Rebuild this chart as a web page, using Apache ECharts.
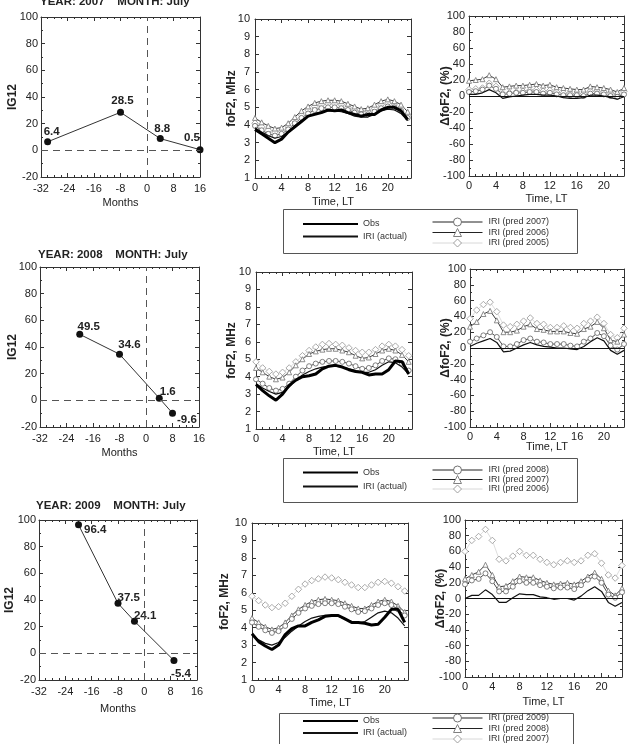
<!DOCTYPE html>
<html><head><meta charset="utf-8">
<script src="https://cdn.jsdelivr.net/npm/echarts@6/dist/echarts.min.js"></script>
<style>html,body{margin:0;padding:0;background:#fff}#c{width:632px;height:744px}</style>
</head><body><div id="c"></div>
<script>
// ---------------- DATA ----------------
const years = [2007, 2008, 2009];
const monthName = 'July';

// IG12 panels (months relative, IG12 values)
const months2007 = [-30, -8, 4, 16];
const ig12_2007 = [6.4, 28.5, 8.8, 0.5];
const months2008 = [-20, -8, 4, 8];
const ig12_2008 = [49.5, 34.6, 1.6, -9.6];
const months2009 = [-20, -8, -3, 9];
const ig12_2009 = [96.4, 37.5, 24.1, -5.4];

const hours = [0,1,2,3,4,5,6,7,8,9,10,11,12,13,14,15,16,17,18,19,20,21,22,23];

// foF2 (MHz) 2007
const obs2007 = [3.75,3.5,3.25,3.0,3.2,3.6,3.9,4.2,4.5,4.6,4.7,4.85,4.8,4.85,4.7,4.6,4.5,4.6,4.6,4.85,5.0,5.0,4.8,4.3];
const act2007 = [3.85,3.6,3.4,3.25,3.35,3.6,3.95,4.25,4.5,4.65,4.75,4.8,4.8,4.75,4.65,4.5,4.45,4.45,4.6,4.8,4.9,4.85,4.65,4.25];
const predA2007 = [3.95,3.7,3.5,3.4,3.5,3.75,4.1,4.4,4.65,4.85,4.95,5.0,5.0,4.95,4.85,4.7,4.6,4.6,4.75,4.95,5.05,5.0,4.8,4.4];
const predB2007 = [4.4,4.15,3.95,3.8,3.85,4.1,4.45,4.8,5.05,5.25,5.35,5.4,5.4,5.35,5.2,5.05,4.9,4.95,5.15,5.35,5.45,5.35,5.15,4.75];
const predC2007 = [4.1,3.9,3.7,3.6,3.65,3.9,4.25,4.55,4.85,5.05,5.15,5.2,5.2,5.15,5.0,4.85,4.75,4.8,4.95,5.15,5.25,5.2,4.95,4.55];
// delta foF2 (%) 2007
const dAct2007 = [2,2,4,8,4,-3,-1,0,1,2,2,1,1,0,-2,-3,-3,-2,1,1,0,-2,-4,-1];
const dPredA2007 = [5,6,8,13,9,2,3,4,4,5,5,3,4,2,1,1,1,0,3,3,2,0,-1,2];
const dPredB2007 = [19,20,21,26,21,11,12,13,13,14,15,13,14,11,10,9,8,8,12,11,10,8,5,10];
const dPredC2007 = [8,9,10,16,12,3,4,5,6,7,8,6,7,5,4,3,3,3,6,6,5,4,2,6];

// foF2 (MHz) 2008
const obs2008 = [3.55,3.2,2.9,2.65,3.0,3.5,3.8,4.0,4.05,4.15,4.45,4.6,4.65,4.55,4.4,4.3,4.25,4.1,4.15,4.15,4.4,4.9,4.85,4.15];
const act2008 = [3.6,3.35,3.15,3.0,3.1,3.4,3.8,4.1,4.3,4.45,4.55,4.6,4.6,4.55,4.45,4.35,4.25,4.25,4.4,4.65,4.85,4.8,4.55,4.15];
const predA2008 = [3.85,3.6,3.35,3.2,3.3,3.6,4.0,4.35,4.6,4.75,4.85,4.9,4.9,4.85,4.75,4.6,4.45,4.5,4.65,4.9,5.05,5.0,4.75,4.35];
const predB2008 = [4.5,4.25,4.0,3.85,3.95,4.25,4.65,5.0,5.3,5.45,5.55,5.6,5.6,5.5,5.4,5.2,5.05,5.1,5.3,5.5,5.6,5.5,5.25,4.85];
const predC2008 = [4.85,4.5,4.3,4.15,4.25,4.5,4.85,5.2,5.5,5.7,5.85,5.9,5.85,5.8,5.65,5.5,5.4,5.4,5.55,5.75,5.85,5.75,5.55,5.2];
// delta foF2 (%) 2008
const dAct2008 = [2,6,9,12,7,-5,-4,0,4,7,4,2,1,0,0,-1,-2,2,8,13,9,-3,-8,-3];
const dPredA2008 = [8,12,16,20,14,2,2,5,10,12,8,7,5,5,5,3,2,8,12,19,15,3,-2,5];
const dPredB2008 = [27,33,43,47,35,20,20,22,27,30,24,23,21,21,21,19,18,24,27,33,25,10,8,17];
const dPredC2008 = [37,48,55,58,46,29,27,30,34,38,31,30,26,26,28,26,25,31,34,39,31,17,13,25];

// foF2 (MHz) 2009
const obs2009 = [3.65,3.2,2.95,2.75,3.0,3.6,3.95,4.1,4.1,4.3,4.45,4.65,4.7,4.7,4.5,4.3,4.3,4.25,4.15,4.2,4.6,5.05,5.05,4.3];
const act2009 = [3.6,3.3,3.1,3.0,3.15,3.45,3.8,4.1,4.35,4.55,4.65,4.7,4.7,4.65,4.5,4.35,4.25,4.35,4.6,4.85,4.95,4.85,4.55,4.1];
const predA2009 = [4.3,4.05,3.85,3.7,3.8,4.1,4.5,4.85,5.1,5.25,5.35,5.4,5.4,5.35,5.2,5.05,4.9,4.95,5.1,5.3,5.4,5.3,5.05,4.7];
const predB2009 = [4.55,4.3,4.05,3.9,4.0,4.3,4.7,5.05,5.3,5.5,5.6,5.65,5.6,5.55,5.4,5.25,5.1,5.1,5.3,5.5,5.6,5.5,5.25,4.9];
const predC2009 = [5.8,5.55,5.3,5.15,5.2,5.4,5.8,6.2,6.5,6.7,6.8,6.9,6.85,6.75,6.6,6.45,6.3,6.3,6.45,6.6,6.65,6.55,6.35,6.1];
// delta foF2 (%) 2009
const dAct2009 = [0,4,4,11,5,-5,-5,1,6,5,5,2,1,-1,0,0,-2,3,10,15,9,-5,-10,-5];
const dPredA2009 = [18,23,25,32,22,9,9,15,22,20,20,17,15,13,14,14,12,17,24,28,20,5,1,8];
const dPredB2009 = [25,30,34,43,30,15,16,22,28,27,27,23,20,18,19,20,18,22,28,33,25,10,4,13];
const dPredC2009 = [60,74,79,88,74,50,48,54,60,55,55,50,46,43,46,48,46,48,55,57,45,30,26,42];

const predNames = [
  ['IRI (pred 2007)', 'IRI (pred 2006)', 'IRI (pred 2005)'],
  ['IRI (pred 2008)', 'IRI (pred 2007)', 'IRI (pred 2006)'],
  ['IRI (pred 2009)', 'IRI (pred 2008)', 'IRI (pred 2007)']
];
const igTicksX = [-32, 16, 8];
const igTicksY = [-20, 100, 20];

// ---------------- LAYOUT / STYLE ----------------
const rows = [
  {months: months2007, ig: ig12_2007, obs: obs2007, act: act2007, p: [predA2007, predB2007, predC2007], d: [dAct2007, dPredA2007, dPredB2007, dPredC2007]},
  {months: months2008, ig: ig12_2008, obs: obs2008, act: act2008, p: [predA2008, predB2008, predC2008], d: [dAct2008, dPredA2008, dPredB2008, dPredC2008]},
  {months: months2009, ig: ig12_2009, obs: obs2009, act: act2009, p: [predA2009, predB2009, predC2009], d: [dAct2009, dPredA2009, dPredB2009, dPredC2009]}
];
const gridBoxes = [
  [[41,17,159,160],[255,19,156,159],[469,16,155,160]],
  [[40,267,159,160],[256,272,156,157],[470,269,154,158]],
  [[39,520,158,160],[252,523,156,157],[465,520,157,157]]
];
const nameGaps = [ // [igX, igY, foX, foY, dX, dY]
  [20.5, 22, 18.5, 17, 17.5, 17],
  [20.5, 21, 17, 18, 14, 18],
  [23.5, 23, 17.5, 21, 19, 18]
];
const igLabelPlace = [
  [{position:'top',offset:[4,5]},{position:'top',offset:[2,2.5]},{position:'top',offset:[2,4.5]},{position:'top',offset:[-8,2.5]}],
  [{position:'top',offset:[9,6.5]},{position:'top',offset:[10,5.5]},{position:'right',offset:[-8,-6]},{position:'right',offset:[-4,7]}],
  [{position:'right',offset:[-3,5]},{position:'right',offset:[-9,-6]},{position:'right',offset:[-9,-5]},{position:'bottom',offset:[7,-1]}]
];
const titlePos = [[40,2],[38,255],[36,506]];
const legendBoxes = [[283,209,294,44],[283,458,294,44],[279,713,294,50]];
const legendLeftTop = [[302,219.5,3.5],[302,468,5],[302,716.5,3]];
const legendRightTop = [[432,217.5,2.5],[432,465.5,1.5],[432,713.5,2.5]];

const FONT = '"Liberation Sans", Arial, Helvetica, sans-serif';
const INK = '#222';
const AX = '#333';
const predStyles = [
  {symbol:'circle', symbolSize:5, mark:'#707070', line:'#4a4a4a', lw:1, legendLine:'#222'},
  {symbol:'triangle', symbolSize:5, mark:'#808080', line:'#3a3a3a', lw:1, legendLine:'#222'},
  {symbol:'diamond', symbolSize:6.5, mark:'#a0a0a0', line:'#d4d4d4', lw:0.8, legendLine:'#d8d8d8'}
];

function axisBase(gi, min, max, interval, minor) {
  return {type:'value', gridIndex:gi, min:min, max:max, interval:interval,
    axisLine:{show:true, onZero:false, lineStyle:{color:AX, width:1}},
    axisTick:{show:true, inside:true, length:4, lineStyle:{color:AX}},
    minorTick:{show:true, splitNumber:minor, length:2, lineStyle:{color:AX}},
    splitLine:{show:false}, minorSplitLine:{show:false}};
}
const xAxes = [], yAxes = [], grids = [], series = [], legends = [], graphics = [];

function addPanel(gi, box, xs, ys) {
  grids.push({left:box[0], top:box[1], width:box[2], height:box[3], containLabel:false});
  const xb = axisBase(gi, xs.min, xs.max, xs.interval, xs.minor);
  Object.assign(xb, {position:'bottom',
    axisLabel:{show:true, fontSize:11, color:INK, fontFamily:FONT, margin:xs.margin, showMaxLabel:xs.showMax},
    name:xs.name, nameLocation:'middle', nameGap:xs.nameGap, nameMoveOverlap:false,
    nameTextStyle:{fontSize:11, color:INK, fontFamily:FONT}});
  const xt = axisBase(gi, xs.min, xs.max, xs.interval, xs.minor);
  Object.assign(xt, {position:'top', axisLabel:{show:false}});
  const yl = axisBase(gi, ys.min, ys.max, ys.interval, ys.minor);
  Object.assign(yl, {position:'left',
    axisLabel:{show:true, fontSize:11, color:INK, fontFamily:FONT, margin:ys.margin},
    name:ys.name, nameLocation:'middle', nameGap:ys.nameGap, nameMoveOverlap:false,
    nameTextStyle:{fontSize:12, fontWeight:'bold', color:INK, fontFamily:FONT}});
  const yr = axisBase(gi, ys.min, ys.max, ys.interval, ys.minor);
  Object.assign(yr, {position:'right', axisLabel:{show:false}});
  if (!ys.minor) { yl.minorTick.show = false; yr.minorTick.show = false; }
  xAxes.push(xb, xt); yAxes.push(yl, yr);
}
const pairs = (xs, ys) => xs.map((x, i) => [x, ys[i]]);
const hiddenMark = {color:'rgba(0,0,0,0)', borderColor:'rgba(0,0,0,0)', borderWidth:0};

rows.forEach((R, r) => {
  const ng = nameGaps[r];
  // ---- IG12 panel
  let g = r * 3;
  addPanel(g, gridBoxes[r][0],
    {min:igTicksX[0], max:igTicksX[1], interval:igTicksX[2], minor:4, margin:6, showMax:true, name:'Months', nameGap:ng[0]},
    {min:igTicksY[0], max:igTicksY[1], interval:igTicksY[2], minor:2, margin:3, name:'IG12', nameGap:ng[1]});
  series.push({type:'line', name:'IG12 ' + years[r], xAxisIndex:2*g, yAxisIndex:2*g,
    data: R.months.map((m, i) => ({value:[m, R.ig[i]], label: igLabelPlace[r][i]})),
    symbol:'circle', symbolSize:7, itemStyle:{color:'#111'}, lineStyle:{color:'#333', width:1},
    label:{show:true, fontSize:11.5, fontWeight:'bold', color:INK, fontFamily:FONT, formatter: p => String(p.value[1])},
    markLine:{silent:true, symbol:['none','none'], label:{show:false}, animation:false,
      lineStyle:{type:[7,5], color:'#555', width:1}, data:[{yAxis:0},{xAxis:0}]},
    z:3});
  // ---- foF2 panel
  g = r * 3 + 1;
  addPanel(g, gridBoxes[r][1],
    {min:0, max:23.5, interval:4, minor:4, margin:4, showMax:false, name:'Time, LT', nameGap:ng[2]},
    {min:1, max:10, interval:1, minor:0, margin:5, name:'foF2, MHz', nameGap:ng[3]});
  const pn = predNames[r].map(n => n + '|' + r);
  [2,1,0].forEach(k => {
    const s = predStyles[k];
    series.push({type:'line', name:pn[k], xAxisIndex:2*g, yAxisIndex:2*g, data:pairs(hours, R.p[k]),
      symbol:s.symbol, symbolSize:s.symbolSize, showAllSymbol:true,
      itemStyle:{color:'#fff', borderColor:s.mark, borderWidth:0.9}, lineStyle:{color:s.line, width:s.lw}, z:2});
  });
  series.push({type:'line', name:'IRI (actual)', xAxisIndex:2*g, yAxisIndex:2*g, data:pairs(hours, R.act),
    symbol:'none', itemStyle:{color:'#111'}, lineStyle:{color:'#111', width:1.2}, z:3});
  series.push({type:'line', name:'Obs', xAxisIndex:2*g, yAxisIndex:2*g, data:pairs(hours, R.obs),
    symbol:'none', itemStyle:{color:'#000'}, lineStyle:{color:'#000', width:3}, z:4});
  // ---- delta panel
  g = r * 3 + 2;
  addPanel(g, gridBoxes[r][2],
    {min:0, max:23, interval:4, minor:4, margin:4, showMax:false, name:'Time, LT', nameGap:ng[4]},
    {min:-100, max:100, interval:20, minor:2, margin:4, name:'\u0394foF2, (%)', nameGap:ng[5]});
  [2,1,0].forEach(k => {
    const s = predStyles[k];
    series.push({type:'line', name:pn[k], xAxisIndex:2*g, yAxisIndex:2*g, data:pairs(hours, R.d[k+1]),
      symbol:s.symbol, symbolSize:s.symbolSize, showAllSymbol:true,
      itemStyle:{color:'#fff', borderColor:s.mark, borderWidth:0.9}, lineStyle:{color:s.line, width:s.lw}, z:2});
  });
  series.push({type:'line', name:'IRI (actual)', xAxisIndex:2*g, yAxisIndex:2*g, data:pairs(hours, R.d[0]),
    symbol:'none', itemStyle:{color:'#111'}, lineStyle:{color:'#111', width:1.2}, z:3,
    markLine:{silent:true, symbol:['none','none'], label:{show:false}, animation:false,
      lineStyle:{type:'solid', color:'#111', width:1}, data:[{yAxis:0}]}});
  // ---- title
  graphics.push({type:'text', x:titlePos[r][0], y:titlePos[r][1],
    style:{text:'YEAR: ' + years[r] + '    MONTH: ' + monthName, fontSize:11.5, fontWeight:'bold',
      fill:INK, fontFamily:FONT, verticalAlign:'middle', align:'left'}});
  // ---- legend box
  const lb = legendBoxes[r];
  graphics.push({type:'rect', shape:{x:lb[0]+0.5, y:lb[1]+0.5, width:lb[2], height:lb[3]},
    style:{fill:'none', stroke:'#555', lineWidth:1}, z:-1});
  const ll = legendLeftTop[r], lr = legendRightTop[r];
  legends.push({left:ll[0], top:ll[1], height:45, padding:0, orient:'vertical', itemWidth:55, itemHeight:9, itemGap:ll[2],
    selectedMode:false,
    data:[{name:'Obs', itemStyle:hiddenMark}, {name:'IRI (actual)', itemStyle:hiddenMark}],
    textStyle:{fontSize:9, color:'#333', fontFamily:FONT}, formatter: n => n.split('|')[0]});
  legends.push({left:lr[0], top:lr[1], height:45, padding:0, orient:'vertical', itemWidth:50, itemHeight:10, itemGap:lr[2]-1,
    selectedMode:false,
    data: pn.map((n, k) => ({name:n, lineStyle:{color:predStyles[k].legendLine, width:1}})),
    itemStyle:{borderWidth:1},
    textStyle:{fontSize:9, color:'#333', fontFamily:FONT, padding:[0,0,0,1]}, formatter: n => n.split('|')[0]});
});

const chart = echarts.init(document.getElementById('c'), null, {renderer:'canvas'});
chart.setOption({
  animation:false,
  backgroundColor:'#fff',
  textStyle:{fontFamily:FONT},
  grid:grids, xAxis:xAxes, yAxis:yAxes, series:series, legend:legends, graphic:graphics
});
</script></body></html>
